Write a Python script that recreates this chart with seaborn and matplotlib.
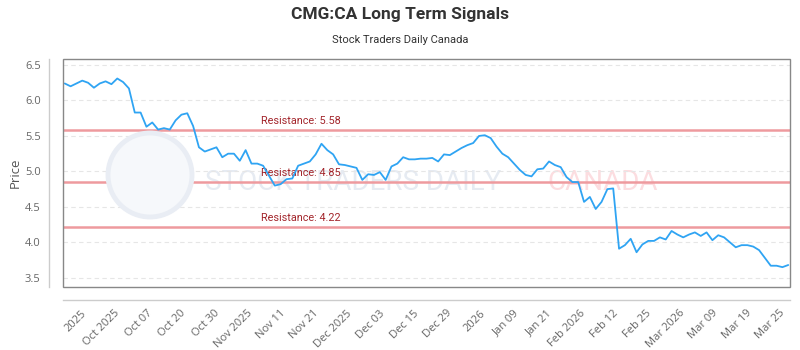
import numpy as np
import pandas as pd
import matplotlib
matplotlib.use("Agg")
import matplotlib.pyplot as plt
import seaborn as sns
from matplotlib.patches import Rectangle, Circle

# --- data ---
prices = [
    6.24, 6.20, 6.24, 6.28, 6.25, 6.18, 6.24, 6.27, 6.23, 6.31,
    6.26, 6.17, 5.83, 5.83, 5.63, 5.69, 5.59, 5.61, 5.59, 5.72,
    5.80, 5.82, 5.64, 5.34, 5.28, 5.31, 5.34, 5.20, 5.25, 5.25,
    5.15, 5.30, 5.11, 5.11, 5.08, 4.94, 4.80, 4.82, 4.89, 4.90,
    5.08, 5.11, 5.14, 5.24, 5.39, 5.30, 5.24, 5.10, 5.09, 5.07,
    5.05, 4.88, 4.96, 4.95, 4.99, 4.88, 5.07, 5.11, 5.20, 5.17,
    5.17, 5.18, 5.18, 5.19, 5.14, 5.24, 5.23, 5.28, 5.33, 5.37,
    5.40, 5.50, 5.51, 5.47, 5.35, 5.25, 5.20, 5.11, 5.02, 4.95,
    4.93, 5.03, 5.04, 5.14, 5.09, 5.06, 4.92, 4.85, 4.85, 4.57,
    4.64, 4.47, 4.57, 4.75, 4.76, 3.91, 3.96, 4.05, 3.86, 3.97,
    4.02, 4.02, 4.07, 4.04, 4.16, 4.11, 4.07, 4.11, 4.14, 4.09,
    4.14, 4.03, 4.10, 4.07, 4.00, 3.93, 3.96, 3.96, 3.94, 3.89,
    3.78, 3.67, 3.67, 3.65, 3.68,
]
resistance_levels = [5.58, 4.85, 4.22]
tick_labels = ["2025", "Oct 2025", "Oct 07", "Oct 20", "Oct 30", "Nov 2025",
               "Nov 11", "Nov 21", "Dec 2025", "Dec 03", "Dec 15", "Dec 29",
               "2026", "Jan 09", "Jan 21", "Feb 2026", "Feb 12", "Feb 25",
               "Mar 2026", "Mar 09", "Mar 19", "Mar 25"]

df = pd.DataFrame({"idx": np.arange(len(prices)), "price": prices})

sns.set_style("white")
plt.rcParams["font.family"] = ["Open Sans", "DejaVu Sans"]
NARROW = ["Roboto", "DejaVu Sans"]

fig = plt.figure(figsize=(8, 3.5), dpi=100)
ax = fig.add_axes([63 / 800, 63 / 350, 727 / 800, 228 / 350])

# offset axis lines (done first: set_position resets the ticks)
for side in ["top", "right"]:
    ax.spines[side].set_visible(False)
ax.spines["left"].set_position(("outward", 10))
ax.spines["bottom"].set_position(("outward", 9))
for side in ["left", "bottom"]:
    ax.spines[side].set_color("#cccccc")
    ax.spines[side].set_linewidth(1)

# watermark (logo ring + text)
fig.patches.append(Circle((1.50, 1.75), 0.42, transform=fig.dpi_scale_trans,
                          facecolor="#f6f8fb", edgecolor="#e9edf4", linewidth=3.5,
                          zorder=0.5, figure=fig))
ax.text((205 - 63) / 727, 0.46, "STOCK TRADERS DAILY", transform=ax.transAxes,
        fontsize=20, family=NARROW, color="#e6ebf2",
        ha="left", va="center", zorder=0.6)
ax.text((547 - 63) / 727, 0.46, "CANADA", transform=ax.transAxes, fontsize=20,
        family=NARROW, color="#fcdde0", ha="left", va="center", zorder=0.6)

# grid
for yv in np.arange(3.5, 6.51, 0.5):
    ax.axhline(yv, color="#e6e6e6", lw=0.8, ls=(0, (4, 3)), zorder=1)

# resistance lines
for lvl in resistance_levels:
    ax.axhline(lvl, color="#ee9a9e", lw=1.8, zorder=2)
    ax.annotate(f"Resistance: {lvl:.2f}", xy=(33.7, lvl), xytext=(0, 3),
                textcoords="offset points", color="#a3262c", fontsize=7.8,
                family=NARROW, ha="left", va="bottom", zorder=3)

sns.lineplot(data=df, x="idx", y="price", ax=ax, color="#2fa4f3", lw=1.3, zorder=4)

ax.set_xlim(-0.3, len(prices) - 0.7)
ax.set_ylim(3.37, 6.585)
yt = np.arange(3.5, 6.51, 0.5)
ax.set_yticks(yt)
ax.set_yticklabels([f"{v:.1f}" for v in yt])
ax.tick_params(axis="both", length=0, labelsize=8, colors="#666666")
ax.tick_params(axis="y", pad=6)
ax.tick_params(axis="x", pad=6)
ax.set_xticks(np.linspace(2.7, 122.4, len(tick_labels)))
ax.set_xticklabels(tick_labels, rotation=45, ha="right", va="top",
                   rotation_mode="anchor")
ax.set_xlabel("")
ax.set_ylabel("Price", fontsize=9.5, color="#555555")
ax.yaxis.set_label_coords((22 - 63) / 727, 0.5)

# plot frame
ax.add_patch(Rectangle((0, 0), 1, 1, transform=ax.transAxes, fill=False,
                       edgecolor="#888888", lw=1, zorder=5, clip_on=False))

fig.text(0.5, 1 - 15 / 350, "CMG:CA Long Term Signals", ha="center", va="center",
         fontsize=12.5, fontweight="bold", color="#333333", family=NARROW)
fig.text(0.5, 1 - 40 / 350, "Stock Traders Daily Canada", ha="center", va="center",
         fontsize=8, color="#333333", family=NARROW)

fig.savefig("out.png", dpi=100)
